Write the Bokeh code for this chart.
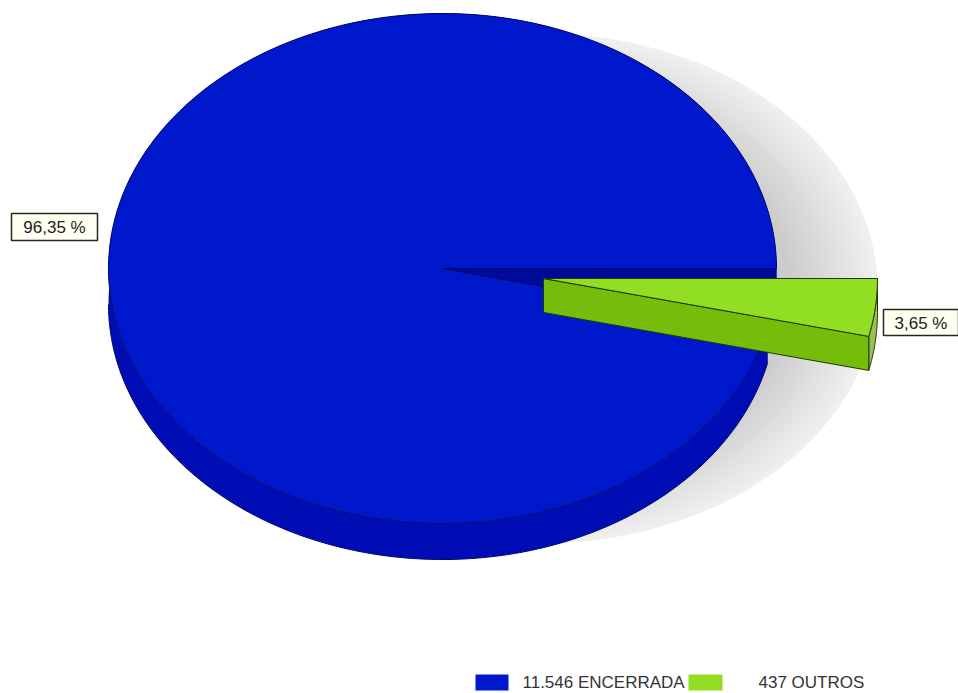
import numpy as np
from bokeh.plotting import figure
from bokeh.models import Range1d
from bokeh.core.properties import value
from bokeh.embed import file_html
from bokeh.resources import INLINE

categories = ["ENCERRADA", "OUTROS"]
counts = [11546, 437]
count_labels = ["11.546", "437"]
percent_labels = ["96,35 %", "3,65 %"]

BLUE_TOP, BLUE_SIDE, BLUE_WALL, BLUE_EDGE = "#0018cc", "#000cb4", "#000a9a", "#00086a"
GREEN_TOP, GREEN_SIDE, GREEN_RIM, GREEN_EDGE = "#92de22", "#76bc0a", "#9cc050", "#1c3a08"
FONT = value("Liberation Sans")

CX, CY, RX, RY, DEPTH = 442, 268, 334, 255, 36
EX, EY, EDEPTH = 101, 10, 34
SX, SY = 540, 288

W, H = 958, 693
p = figure(width=W, height=H, x_range=Range1d(0, W), y_range=Range1d(H, 0),
           toolbar_location=None, output_backend="svg", min_border=0,
           outline_line_color=None, background_fill_color="white")
p.axis.visible = False
p.grid.visible = False

sweep = counts[1] / sum(counts) * 2 * np.pi


def arc(t0, t1, n=240, cx=CX, cy=CY, rx=RX, ry=RY):
    t = np.linspace(t0, t1, n)
    return cx + rx * np.cos(t), cy + ry * np.sin(t)


# soft shadow, drawn from its faint outer edge to its darker middle
steps = 18
for i in range(steps):
    k = 1 - i * 0.015
    g = int(round(0xef - (0xef - 0xcc) * i / (steps - 1)))
    x, y = arc(0, 2 * np.pi, cx=SX, cy=SY, rx=337 * k, ry=255 * k)
    p.patch(x, y, fill_color=f"#{g:02x}{g:02x}{g:02x}", line_color=None)

# blue thickness
x, y = arc(sweep, 2 * np.pi)
p.patch(np.r_[x, x[::-1]], np.r_[y, y[::-1] + DEPTH], fill_color=BLUE_SIDE, line_color=None)
x, y = arc(sweep, np.pi)
p.line(x, y + DEPTH, line_color=BLUE_EDGE, line_width=1)
# inner wall seen through the gap left by the pulled-out slice
p.patch([CX, CX + RX, CX + RX, CX], [CY, CY, CY + DEPTH, CY + DEPTH],
        fill_color=BLUE_WALL, line_color=None)
# blue top
x, y = arc(sweep, 2 * np.pi)
p.patch(np.r_[CX, x], np.r_[CY, y], fill_color=BLUE_TOP, line_color=BLUE_EDGE, line_width=1)

# green slice
ax, ay = CX + EX, CY + EY
x, y = arc(0, sweep, 40, cx=ax, cy=ay)
p.patch(np.r_[x, x[::-1]], np.r_[y, y[::-1] + EDEPTH], fill_color=GREEN_RIM,
        line_color=GREEN_EDGE, line_width=1)
p.patch([ax, x[-1], x[-1], ax], [ay, y[-1], y[-1] + EDEPTH, ay + EDEPTH],
        fill_color=GREEN_SIDE, line_color=GREEN_EDGE, line_width=1)
p.patch(np.r_[ax, x], np.r_[ay, y], fill_color=GREEN_TOP, line_color=GREEN_EDGE, line_width=1)

# value labels
boxes = [(11, 97, 213, 240), (883, 958, 309, 335)]
for (l, r, t, b), s in zip(boxes, percent_labels):
    p.quad(left=l, right=r, top=t, bottom=b, fill_color="#fffff2", line_color="#26281c", line_width=1.5)
    p.text([(l + r) / 2], [(t + b) / 2 + 0.5], text=[s], text_align="center", text_baseline="middle",
           text_font=FONT, text_font_size="17px", text_color="#222222")

# legend
swatches = [(475, 508, BLUE_TOP), (688, 722, GREEN_TOP)]
text_x = [522, 758]
for (l, r, c), tx, n, name in zip(swatches, text_x, count_labels, categories):
    p.quad(left=l, right=r, top=674, bottom=690, fill_color=c, line_color=None)
    p.text([tx], [681.5], text=[f"{n} {name}"], text_align="left", text_baseline="middle",
           text_font=FONT, text_font_size="17px", text_color="#333333")

open("out.html", "w").write(file_html(p, INLINE))
